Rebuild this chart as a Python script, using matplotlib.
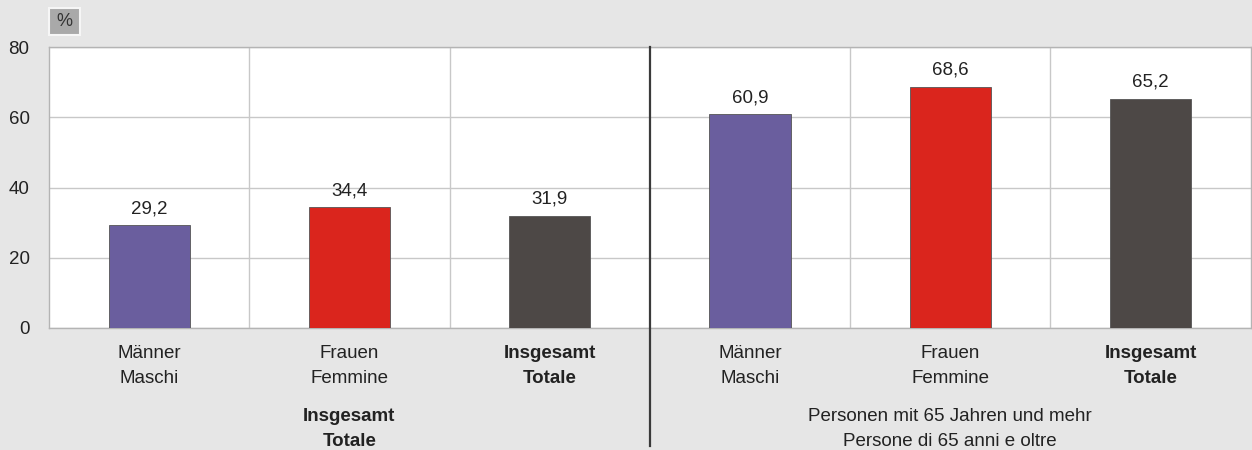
import numpy as np
import matplotlib
matplotlib.use('Agg')
import matplotlib.pyplot as plt
import matplotlib.transforms as mtransforms
from matplotlib.patches import Rectangle

# data
cat_de = ["Männer", "Frauen", "Insgesamt", "Männer", "Frauen", "Insgesamt"]
cat_it = ["Maschi", "Femmine", "Totale", "Maschi", "Femmine", "Totale"]
values = [29.2, 34.4, 31.9, 60.9, 68.6, 65.2]
bar_colors = ["#6a5e9e", "#da251d", "#4d4846", "#6a5e9e", "#da251d", "#4d4846"]
groups = ["Insgesamt\nTotale", "Personen mit 65 Jahren und mehr\nPersone di 65 anni e oltre"]
yticks = [0, 20, 40, 60, 80]

plt.rcParams['font.family'] = ['Liberation Sans', 'DejaVu Sans']
bg = "#e6e6e6"
fs = 13.5

fig = plt.figure(figsize=(12.52, 4.5), dpi=100, facecolor=bg)
ax = fig.add_axes([49/1252, 1 - 328/450, 1 - 49/1252 - 0.001, (328 - 47)/450])
ax.set_facecolor("white")

x = np.arange(len(values))
ax.bar(x, values, width=0.405, color=bar_colors, edgecolor="#555555", linewidth=0.6, zorder=3)
for xi, v in zip(x, values):
    ax.text(xi, v + 2.3, ("%.1f" % v).replace(".", ","), ha="center", va="bottom",
            fontsize=fs, color="#222222")

ax.set_xlim(-0.5, len(values) - 0.5)
ax.set_ylim(0, 80)
ax.set_yticks(yticks)
ax.set_yticklabels([str(t) for t in yticks], fontsize=fs, color="#222222")
ax.tick_params(axis="y", length=0, pad=14)
ax.tick_params(axis="x", length=0, pad=12.5)

# grid
ax.yaxis.grid(True, color="#c8c8c8", linewidth=1, zorder=0)
for b in np.arange(0.5, len(values) - 0.5):
    if b == 2.5:
        continue
    ax.axvline(b, color="#c8c8c8", linewidth=1, zorder=0)

for s in ax.spines.values():
    s.set_color("#b4b4b4")
    s.set_linewidth(1)

# separator between groups
trans = mtransforms.blended_transform_factory(ax.transData, ax.transAxes)
ax.plot([2.5, 2.5], [1, -0.42], transform=trans, color="#3a3a3a", linewidth=1.6,
        clip_on=False, zorder=5)

ax.set_xticks(x)
ax.set_xticklabels([a + "\n" + b for a, b in zip(cat_de, cat_it)], fontsize=fs,
                   color="#222222", linespacing=1.55)
for i, lab in enumerate(ax.get_xticklabels()):
    if cat_de[i] == "Insgesamt":
        lab.set_fontweight("bold")

for gi, g in enumerate(groups):
    ax.text(1 + 3 * gi, -0.285, g, transform=trans, ha="center", va="top", fontsize=fs,
            color="#222222", linespacing=1.6, fontweight="bold" if gi == 0 else "normal")

# percent box
fig.patches.append(Rectangle((49/1252, 1 - 35/450), 31/1252, 27/450, transform=fig.transFigure,
                             facecolor="#a9a9a9", edgecolor="#f6f6f6", linewidth=1.5))
fig.text(64.5/1252, 1 - 21.5/450, "%", ha="center", va="center", fontsize=13, color="#333333")

fig.savefig("out.png", dpi=100, facecolor=bg)
